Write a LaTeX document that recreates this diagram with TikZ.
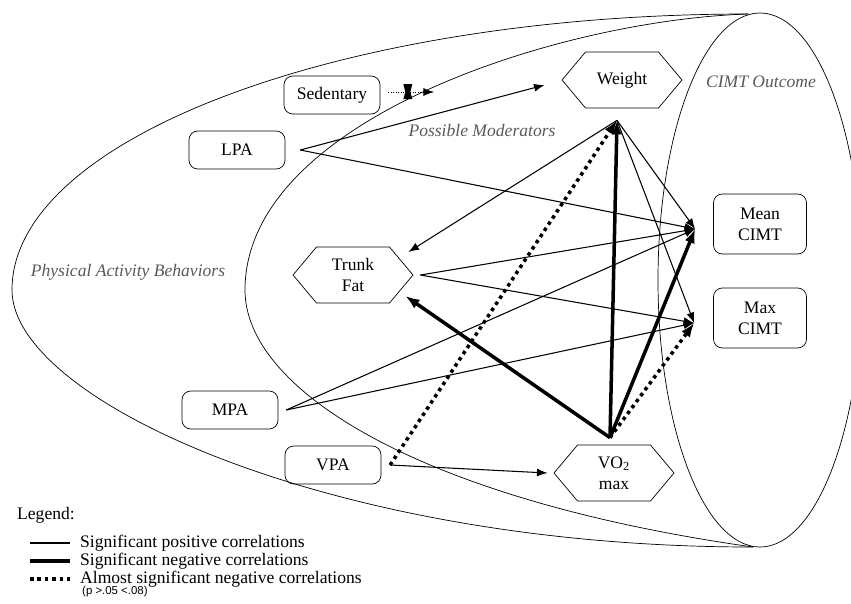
\documentclass[tikz,border=0pt]{standalone}
\usepackage{fontspec}
\setmainfont{Liberation Serif}
\setsansfont{Liberation Sans}
\usepackage{tikz}
\usetikzlibrary{arrows.meta}
\usetikzlibrary{shapes}
\usetikzlibrary{positioning}

\tikzset{
  pabox/.style={draw,rectangle,rounded corners=5pt,minimum width=1.92cm,minimum height=0.76cm,align=center},
  cimtbox/.style={pabox,minimum width=1.86cm,minimum height=1.2cm},
  modhex/.style={draw,signal,signal to=east and west,signal pointer angle=100,minimum width=2.4cm,minimum height=1.12cm,align=center,inner sep=1pt},
  region/.style={font=\itshape,text=black!65},
  poslink/.style={-{Latex[length=6pt,width=4.5pt]},line width=0.6pt},
  neglink/.style={-{Latex[length=8pt,width=6pt]},line width=2pt},
  almostlink/.style={-{Latex[length=8pt,width=6pt]},line width=2pt,dash pattern=on 2pt off 2.2pt},
}

\begin{document}
\begin{tikzpicture}[x=0.02cm,y=-0.02cm]
  \useasboundingbox (0,0) rectangle (851,603);

  % the three regions
  \draw (748,14) .. controls (342,14) and (12,138) .. (12,290)
    .. controls (12,400) and (330,547) .. (753,547);
  \draw (748,14) .. controls (560,20) and (245,120) .. (245,290)
    .. controls (245,390) and (420,500) .. (753,547);
  \draw (760,280) ellipse [x radius=102,y radius=267];

  \node[region] at (128,272) (pab) {Physical Activity Behaviors};
  \node[region] at (482,130) (pm) {Possible Moderators};
  \node[region] at (761,82) (co) {CIMT Outcome};

  % behaviors
  \node[pabox] at (332,95) (sed) {Sedentary};
  \node[pabox] at (237,150) (lpa) {LPA};
  \node[pabox] at (230,410) (mpa) {MPA};
  \node[pabox] at (333,465) (vpa) {VPA};

  % moderators
  \node[modhex] at (622,80) (weight) {Weight};
  \node[modhex] at (353,275) (trunk) {Trunk\\Fat};
  \node[modhex] at (614,473) (vo2) {VO\textsubscript{2}\\max};

  % outcome
  \node[cimtbox] at (760,224) (mean) {Mean\\CIMT};
  \node[cimtbox] at (760,318) (max) {Max\\CIMT};

  % where the arrows meet
  \coordinate (sedout) at ([shift={(8,-3)}]sed.east);
  \coordinate[right=26pt of sedout] (sedin);
  \coordinate[right=8.5pt of lpa] (lpaout);
  \coordinate[right=4.5pt of mpa] (mpaout);
  \coordinate[right=5pt of vpa] (vpaout);
  \coordinate[right=4pt of trunk] (tfout);
  \coordinate (tfup) at ([shift={(-5,-23)}]trunk.east);
  \coordinate (tfdown) at ([shift={(-8,21)}]trunk.east);
  \coordinate (wtip) at ([shift={(-17,5)}]weight.west);
  \coordinate (wbot) at ([shift={(-5,12)}]weight.south);
  \coordinate (vtop) at ([shift={(-4,-7)}]vo2.north);
  \coordinate (vin) at ([shift={(-6,0)}]vo2.west);
  \coordinate (meanin) at ([shift={(-18,5)}]mean.west);
  \coordinate (maxin) at ([shift={(-19,5)}]max.west);

  \draw[densely dotted,-{Latex[length=6pt,width=4.5pt]}] (sedout) -- (sedin);
  \fill ([shift={(15,-8)}]sedout) -- ++(9,0) -- ++(-2,8) -- ++(2,7) -- ++(-9,0) -- ++(2,-7) -- cycle;

  \draw[poslink] (lpaout) -- (wtip);
  \draw[poslink] (lpaout) -- (meanin);
  \draw[poslink] (mpaout) -- (meanin);
  \draw[poslink] (mpaout) -- (maxin);
  \draw[poslink] (tfout) -- (meanin);
  \draw[poslink] (tfout) -- (maxin);
  \draw[poslink] (wbot) -- (tfup);
  \draw[poslink] (wbot) -- (meanin);
  \draw[poslink] (wbot) -- (maxin);
  \draw[poslink] (vpaout) -- (vin);
  \draw[neglink] (vtop) -- (wbot);
  \draw[neglink] (vtop) -- (tfdown);
  \draw[neglink] (vtop) -- (meanin);
  \draw[almostlink] (vtop) -- (maxin);
  \draw[almostlink] (vpaout) -- (wbot);

  % legend
  \node[anchor=west] at (11,515) (leg) {Legend:};
  \node[anchor=west] at (74,543) (lpos) {Significant positive correlations};
  \node[anchor=west] at (74,561) (lneg) {Significant negative correlations};
  \node[anchor=west] at (74,579) (lalm) {Almost significant negative correlations};
  \node[anchor=west,font=\sffamily\fontsize{6.5}{8}\selectfont] at (76,592) (lp) {(p >.05 <.08)};
  \draw[line width=0.6pt] ([shift={(-44,0)}]lpos.west) -- ([shift={(-4,0)}]lpos.west);
  \draw[line width=2pt] ([shift={(-44,0)}]lneg.west) -- ([shift={(-4,0)}]lneg.west);
  \draw[line width=2pt,dash pattern=on 2pt off 2.2pt] ([shift={(-44,0)}]lalm.west) -- ([shift={(-4,0)}]lalm.west);
\end{tikzpicture}
\end{document}
